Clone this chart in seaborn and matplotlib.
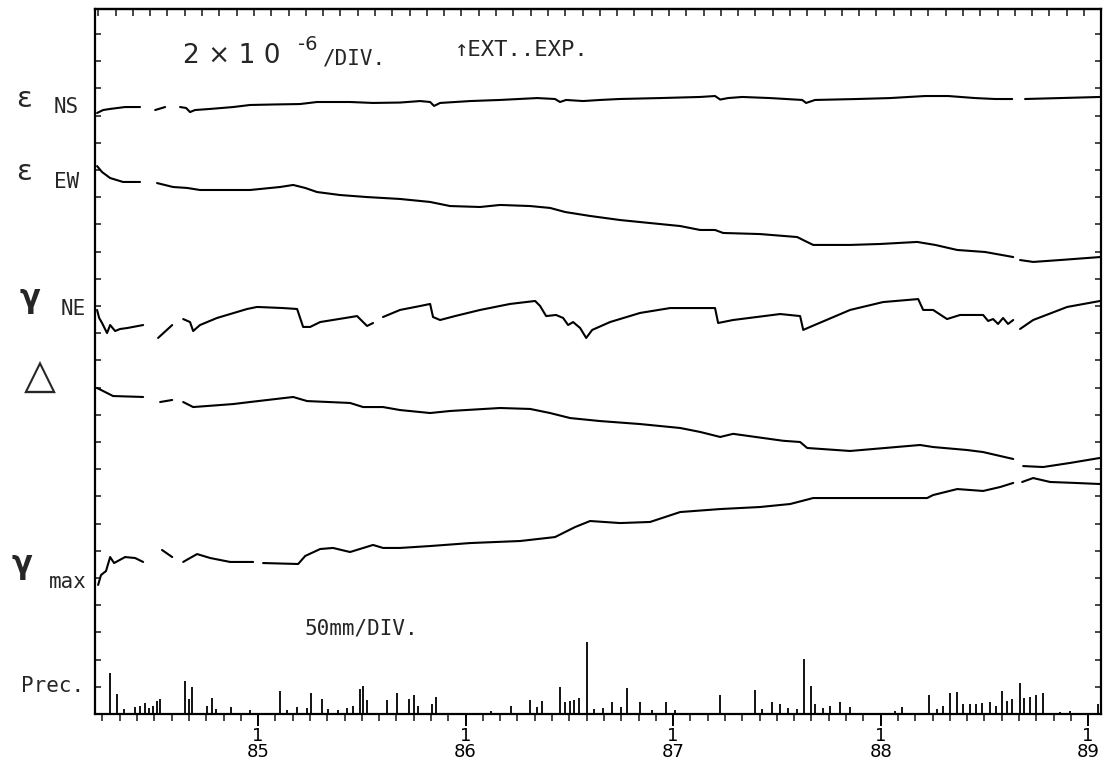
import numpy as np
import pandas as pd
import matplotlib
matplotlib.use("Agg")
import matplotlib.pyplot as plt
import seaborn as sns

nan = np.nan

# ---- strain records (unit: 1e-6, relative to each trace's reference level); NaN = break in record
ns_t = [1984.224, 1984.253, 1984.287, 1984.359, 1984.431, 1984.47, 1984.504, 1984.552, 1984.59,
        1984.624, 1984.653, 1984.672, 1984.696, 1984.769, 1984.880, 1984.961, 1985.082, 1985.202,
        1985.284, 1985.443, 1985.554, 1985.684, 1985.781, 1985.829, 1985.848, 1985.877, 1986.022,
        1986.166, 1986.345, 1986.431, 1986.455, 1986.484, 1986.566, 1986.648, 1986.740, 1986.937,
        1987.130, 1987.202, 1987.227, 1987.265, 1987.333, 1987.467, 1987.622, 1987.641, 1987.684,
        1987.887, 1988.046, 1988.214, 1988.325, 1988.455, 1988.552, 1988.634, 1988.66, 1988.696,
        1988.865, 1989.058]
ns_v = [0.19, 0.41, 0.49, 0.63, 0.63, nan, 0.41, 0.63, nan,
        0.63, 0.56, 0.26, 0.41, 0.49, 0.63, 0.78, 0.82, 0.85,
        1.00, 1.00, 0.93, 0.96, 1.07, 1.00, 0.71, 0.93, 1.07,
        1.15, 1.29, 1.22, 1.00, 1.15, 1.07, 1.15, 1.22, 1.29,
        1.37, 1.44, 1.18, 1.29, 1.37, 1.29, 1.15, 0.93, 1.15,
        1.22, 1.29, 1.44, 1.44, 1.29, 1.22, 1.22, nan, 1.22,
        1.29, 1.37]

ew_t = [1984.224, 1984.248, 1984.287, 1984.349, 1984.431, 1984.47, 1984.513, 1984.590, 1984.658,
        1984.720, 1984.961, 1985.106, 1985.169, 1985.227, 1985.284, 1985.395, 1985.525, 1985.684,
        1985.829, 1985.925, 1986.070, 1986.166, 1986.311, 1986.407, 1986.480, 1986.600, 1986.745,
        1986.889, 1987.034, 1987.130, 1987.202, 1987.241, 1987.419, 1987.598, 1987.636, 1987.675,
        1987.853, 1987.998, 1988.176, 1988.263, 1988.369, 1988.504, 1988.639, 1988.655, 1988.672,
        1988.735, 1988.865, 1989.058]
ew_v = [0.29, -0.15, -0.59, -0.88, -0.88, nan, -0.96, -1.25, -1.32,
        -1.47, -1.47, -1.25, -1.10, -1.32, -1.62, -1.84, -1.99, -2.13,
        -2.35, -2.65, -2.72, -2.57, -2.65, -2.79, -3.09, -3.38, -3.68,
        -3.90, -4.12, -4.41, -4.41, -4.63, -4.71, -4.93, -5.22, -5.51,
        -5.51, -5.44, -5.29, -5.51, -5.88, -6.03, -6.40, nan, -6.62,
        -6.76, -6.62, -6.40]

ne_t = [1984.224, 1984.234, 1984.248, 1984.272, 1984.287, 1984.311, 1984.335, 1984.369, 1984.446,
        1984.48, 1984.518, 1984.586, 1984.61, 1984.639, 1984.672, 1984.687, 1984.720, 1984.802,
        1984.947, 1984.995, 1985.120, 1985.188, 1985.217, 1985.251, 1985.299, 1985.477, 1985.525,
        1985.554, 1985.58, 1985.602, 1985.684, 1985.781, 1985.829, 1985.843, 1985.877, 1985.949,
        1986.070, 1986.214, 1986.335, 1986.359, 1986.388, 1986.436, 1986.470, 1986.494, 1986.518,
        1986.552, 1986.581, 1986.610, 1986.696, 1986.841, 1986.986, 1987.130, 1987.202, 1987.217,
        1987.289, 1987.516, 1987.612, 1987.627, 1987.660, 1987.853, 1988.012, 1988.181, 1988.205,
        1988.253, 1988.320, 1988.383, 1988.494, 1988.518, 1988.542, 1988.566, 1988.590, 1988.614,
        1988.639, 1988.655, 1988.672, 1988.735, 1988.899, 1989.058]
ne_v = [-0.29, -0.88, -1.25, -1.99, -1.40, -1.84, -1.69, -1.62, -1.40,
        nan, -2.35, -1.40, nan, -0.96, -1.18, -1.84, -1.40, -0.88,
        -0.22, -0.07, -0.15, -0.22, -1.54, -1.54, -1.18, -0.74, -1.47,
        -1.25, nan, -0.81, -0.29, 0.00, 0.15, -0.81, -1.03, -0.74,
        -0.29, 0.15, 0.37, 0.00, -0.74, -0.66, -0.88, -1.40, -1.18,
        -1.62, -2.35, -1.76, -1.18, -0.51, -0.15, -0.15, -0.15, -1.25,
        -1.03, -0.59, -0.74, -1.76, -1.54, -0.29, 0.29, 0.51, -0.29,
        -0.29, -0.96, -0.66, -0.66, -1.10, -0.96, -1.32, -0.88, -1.32,
        -1.03, nan, -1.69, -1.03, -0.07, 0.37]

dl_t = [1984.224, 1984.253, 1984.301, 1984.446, 1984.49, 1984.528, 1984.586, 1984.61, 1984.639,
        1984.687, 1984.880, 1984.961, 1985.169, 1985.236, 1985.443, 1985.506, 1985.602, 1985.684,
        1985.829, 1985.925, 1986.166, 1986.311, 1986.407, 1986.504, 1986.648, 1986.841, 1987.034,
        1987.130, 1987.227, 1987.289, 1987.530, 1987.612, 1987.646, 1987.853, 1988.190, 1988.253,
        1988.417, 1988.494, 1988.639, 1988.66, 1988.687, 1988.783, 1988.913, 1989.058]
dl_v = [-0.03, -0.25, -0.62, -0.69, nan, -1.06, -0.91, nan, -1.06,
        -1.43, -1.21, -1.06, -0.69, -0.99, -1.13, -1.43, -1.43, -1.65,
        -1.87, -1.72, -1.50, -1.57, -1.87, -2.24, -2.46, -2.68, -2.97,
        -3.26, -3.63, -3.40, -3.91, -4.00, -4.44, -4.66, -4.22, -4.37,
        -4.59, -4.74, -5.25, nan, -5.77, -5.84, -5.54, -5.17]

gm_t = [1984.229, 1984.243, 1984.267, 1984.287, 1984.306, 1984.359, 1984.407, 1984.446, 1984.49,
        1984.537, 1984.586, 1984.61, 1984.639, 1984.672, 1984.706, 1984.769, 1984.865, 1984.976,
        1985.00, 1985.024, 1985.193, 1985.227, 1985.299, 1985.361, 1985.443, 1985.554, 1985.602,
        1985.684, 1985.829, 1986.022, 1986.263, 1986.431, 1986.528, 1986.600, 1986.745, 1986.889,
        1987.034, 1987.227, 1987.419, 1987.564, 1987.675, 1987.901, 1988.224, 1988.253, 1988.369,
        1988.494, 1988.576, 1988.639, 1988.66, 1988.682, 1988.735, 1988.817, 1988.937, 1989.058]
gm_v = [-0.51, 0.22, 0.51, 1.54, 1.10, 1.54, 1.47, 1.18, nan,
        2.06, 1.54, nan, 1.18, 1.47, 1.76, 1.47, 1.18, 1.18,
        nan, 1.10, 1.03, 1.62, 2.13, 2.21, 1.91, 2.43, 2.21,
        2.21, 2.35, 2.57, 2.72, 3.01, 3.75, 4.19, 4.04, 4.12,
        4.85, 5.07, 5.22, 5.44, 5.88, 5.88, 5.88, 6.10, 6.54,
        6.40, 6.69, 6.99, nan, 7.06, 7.35, 7.06, 6.99, 6.91]

# ---- daily precipitation (mm)
prec_t = [1984.287, 1984.320, 1984.354, 1984.407, 1984.431, 1984.455, 1984.475, 1984.494, 1984.513,
          1984.528, 1984.648, 1984.667, 1984.682, 1984.754, 1984.778, 1984.798, 1984.870, 1984.961,
          1985.106, 1985.140, 1985.188, 1985.236, 1985.255, 1985.308, 1985.337, 1985.386, 1985.429,
          1985.458, 1985.492, 1985.506, 1985.525, 1985.622, 1985.670, 1985.728, 1985.752, 1985.771,
          1985.839, 1985.858, 1986.123, 1986.219, 1986.311, 1986.345, 1986.369, 1986.455, 1986.480,
          1986.504, 1986.523, 1986.547, 1986.586, 1986.619, 1986.663, 1986.706, 1986.749, 1986.778,
          1986.841, 1986.899, 1986.966, 1987.010, 1987.227, 1987.395, 1987.429, 1987.477, 1987.516,
          1987.554, 1987.598, 1987.631, 1987.665, 1987.684, 1987.723, 1987.757, 1987.805, 1987.853,
          1988.070, 1988.104, 1988.234, 1988.272, 1988.301, 1988.335, 1988.369, 1988.398, 1988.431,
          1988.460, 1988.489, 1988.528, 1988.557, 1988.586, 1988.610, 1988.634, 1988.672, 1988.692,
          1988.721, 1988.749, 1988.783, 1988.865, 1988.913, 1989.048]
prec_mm = [75, 37, 9, 13, 15, 20, 11, 15, 24,
           28, 61, 28, 50, 15, 29, 9, 13, 7,
           42, 7, 13, 11, 39, 28, 9, 7, 11,
           15, 46, 52, 26, 26, 39, 28, 35, 15,
           18, 31, 6, 15, 26, 13, 24, 50, 22,
           24, 26, 29, 132, 9, 11, 22, 13, 48,
           22, 7, 22, 7, 35, 44, 9, 22, 18,
           11, 9, 101, 52, 18, 11, 15, 22, 13,
           6, 13, 35, 9, 15, 39, 41, 18, 18,
           18, 20, 22, 15, 42, 24, 28, 57, 29,
           31, 35, 39, 4, 6, 18]

year_ticks = [1985, 1986, 1987, 1988, 1989]
year_labels = ["1\n85", "1\n86", "1\n87", "1\n88", "1\n89"]

STRAIN_PER_DIV = 2.0      # 2x10^-6 per division
PREC_PER_DIV = 50.0       # 50 mm per division

# vertical reference level of each trace, in divisions
traces = [
    ("NS", ns_t, ns_v, 22),
    ("EW", ew_t, ew_v, 20),
    ("NE", ne_t, ne_v, 15),
    ("DL", dl_t, dl_v, 12),
    ("GM", gm_t, gm_v, 5),
]

rows = []
for name, t, v, base in traces:
    seg = 0
    for ti, vi in zip(t, v):
        if np.isnan(vi):
            seg += 1
            continue
        rows.append({"trace": name, "seg": f"{name}{seg}", "t": ti,
                     "pos": base + vi / STRAIN_PER_DIV})
df = pd.DataFrame(rows)

sns.set_theme(style="white")
plt.rcParams["font.family"] = ["DejaVu Sans"]

W, H = 1112, 765
fig = plt.figure(figsize=(W / 100, H / 100), dpi=100)
ax = fig.add_axes([95 / W, 1 - 714 / H, (1101 - 95) / W, (714 - 9) / H])

for name, sub in df.groupby("trace", sort=False):
    sns.lineplot(data=sub, x="t", y="pos", units="seg", estimator=None,
                 color="black", lw=1.5, ax=ax, legend=False, sort=False)

ax.vlines(prec_t, 0, np.array(prec_mm) / PREC_PER_DIV, color="black", lw=1.3)

ax.set_xlim(1984.214, 1989.062)
ax.set_ylim(0, (714 - 9) / 27.2)
ax.set_xlabel("")
ax.set_ylabel("")

for s in ax.spines.values():
    s.set_color("black")
    s.set_linewidth(1.6)

months = np.arange(1984 + 3 / 12, 1989.0001, 1 / 12)
ax.set_xticks(year_ticks)
ax.set_xticklabels(year_labels, fontsize=13, linespacing=0.85)
ax.set_xticks(months, minor=True)
ax.tick_params(axis="x", which="major", direction="out", length=8.5, width=1.4,
               pad=1, colors="black", bottom=True)
ax.tick_params(axis="x", which="minor", direction="out", length=5, width=1.2,
               bottom=True)

ax.set_yticks(np.arange(1, 26))
ax.tick_params(axis="y", which="major", direction="in", length=4, width=1.2,
               left=True, right=True, labelleft=False)

top = ax.secondary_xaxis("top")
top.set_xticks(months - 0.02)
top.tick_params(axis="x", direction="in", length=5, width=1.2, labeltop=False)
top.spines["top"].set_linewidth(1.6)

def fx(x):
    return x / W

def fy(y):
    return 1 - y / H

mono = "DejaVu Sans Mono"

fig.text(fx(183), fy(56), "2 × 1 0", fontsize=19, va="center", ha="left")
fig.text(fx(298), fy(45), "-6", fontsize=14, va="center", ha="left")
fig.text(fx(323), fy(59), "/DIV.", fontsize=15, family=mono, va="center", ha="left")
fig.text(fx(455), fy(50), "↑EXT..EXP.", fontsize=16, family=mono, va="center", ha="left")
fig.text(fx(305), fy(629), "50mm/DIV.", fontsize=15, family=mono, va="center", ha="left")

fig.text(fx(24), fy(99), "ε", fontsize=21, va="center", ha="center")
fig.text(fx(54), fy(107), "NS", fontsize=15, family=mono, va="center", ha="left")
fig.text(fx(24), fy(172), "ε", fontsize=21, va="center", ha="center")
fig.text(fx(54), fy(182), "EW", fontsize=15, family=mono, va="center", ha="left")
fig.text(fx(30), fy(300), "γ", fontsize=22, va="center", ha="center", fontweight="bold")
fig.text(fx(61), fy(309), "NE", fontsize=15, family=mono, va="center", ha="left")
fig.text(fx(40), fy(377), "△", fontsize=30, va="center", ha="center")
fig.text(fx(22), fy(566), "γ", fontsize=22, va="center", ha="center", fontweight="bold")
fig.text(fx(49), fy(582), "max", fontsize=15, family=mono, va="center", ha="left")
fig.text(fx(21), fy(686), "Prec.", fontsize=15, family=mono, va="center", ha="left")

fig.savefig("out.png", dpi=100, facecolor="white")
